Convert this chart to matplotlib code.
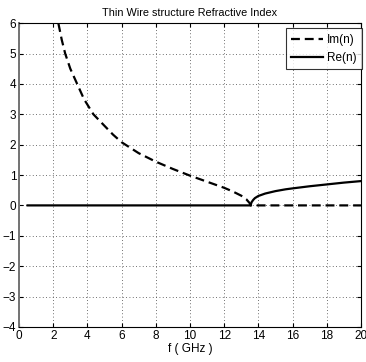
import matplotlib
matplotlib.use("Agg")
import matplotlib.pyplot as plt

plt.rcParams['font.family'] = ['Liberation Sans Narrow', 'Liberation Sans', 'DejaVu Sans']

# Im(n)
im_f = [2.3, 2.5, 2.7, 3.0, 3.4, 3.8, 4.35, 5.0, 5.5, 6.0, 7.0, 8.0, 9.0,
        10.0, 11.0, 12.0, 12.5, 13.0, 13.3, 13.5, 13.55, 20.0]
im_n = [6.0, 5.45, 5.0, 4.5, 4.0, 3.5, 3.0, 2.62, 2.33, 2.08, 1.72, 1.44,
        1.2, 0.98, 0.78, 0.58, 0.46, 0.32, 0.2, 0.07, 0.0, 0.0]

# Re(n)
re_f = [0.5, 13.55, 13.6, 13.7, 13.8, 14.0, 14.4, 15.0, 15.6, 16.0, 17.0,
        18.0, 19.0, 20.0]
re_n = [0.0, 0.0, 0.1, 0.18, 0.24, 0.31, 0.39, 0.47, 0.53, 0.56, 0.63,
        0.69, 0.75, 0.8]

xticks = list(range(0, 21, 2))
yticks = list(range(-4, 7))

fig = plt.figure(figsize=(3.66, 3.62), dpi=100)
ax = fig.add_axes([0.052, 0.097, 0.934, 0.839])

ax.plot(im_f, im_n, color="black", lw=1.6, ls=(0, (4, 2.2)), label="Im(n)")
ax.plot(re_f, re_n, color="black", lw=1.6, ls="-", label="Re(n)")

ax.set_xlim(0, 20)
ax.set_ylim(-4, 6)
ax.set_xticks(xticks)
ax.set_yticks(yticks)
ax.grid(True, color="0.25", ls=(0, (1, 3)), lw=0.6)
ax.tick_params(labelsize=8.5, length=3, direction="in", pad=2,
               top=True, right=True)
for s in ax.spines.values():
    s.set_linewidth(0.8)
ax.spines["left"].set_color("0.45")
ax.spines["left"].set_linewidth(1.4)

ax.set_title("Thin Wire structure Refractive Index", fontsize=7.8, pad=5)
ax.set_xlabel("f ( GHz )", fontsize=8.5, labelpad=1)

leg = ax.legend(loc="upper right", bbox_to_anchor=(1.002, 0.983),
                borderaxespad=0, fontsize=8.5, frameon=True, fancybox=False,
                edgecolor="black", handlelength=2.7, handletextpad=0.3,
                borderpad=0.45, labelspacing=0.55)
leg.get_frame().set_linewidth(0.8)

fig.savefig("out.png", dpi=100, facecolor="white")
